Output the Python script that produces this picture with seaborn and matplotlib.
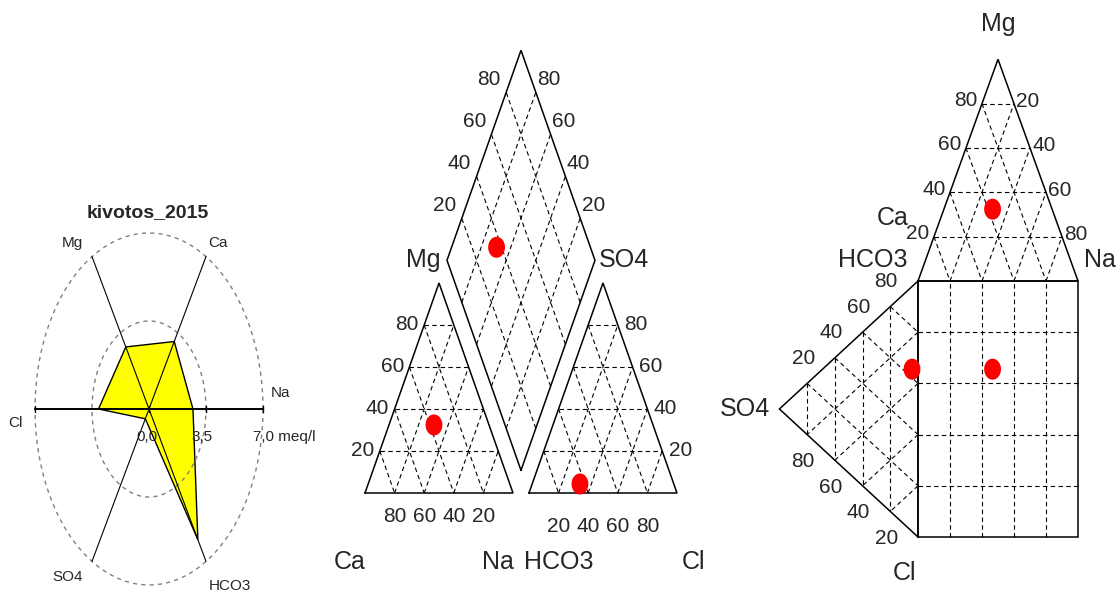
import numpy as np
import matplotlib
matplotlib.use('Agg')
import matplotlib.pyplot as plt
import seaborn as sns

# ---- data ----
sample_name = 'kivotos_2015'
stiff_ions = ['Na', 'Ca', 'Mg', 'Cl', 'SO4', 'HCO3']
stiff_meq = [2.7, 3.1, 2.85, 3.1, 0.45, 6.0]
stiff_ticks = [0.0, 3.5, 7.0]
stiff_tick_labels = ['0,0', '3,5', '7,0 meq/l']

cation_names = ['Ca', 'Mg', 'Na']
cation_pct = [37.2, 32.4, 30.4]
anion_names = ['HCO3', 'SO4', 'Cl']
anion_pct = [63.4, 4.3, 32.3]
grid_pct = [20, 40, 60, 80]

sns.set_theme(style='white')
plt.rcParams['font.family'] = ['Liberation Sans Narrow', 'Liberation Sans', 'DejaVu Sans']

W, H = 1117, 600
fig = plt.figure(figsize=(W / 100, H / 100), dpi=100, facecolor='white')

FRAME = dict(color='black', lw=1.1, solid_joinstyle='miter', zorder=3)
GRID = dict(color='black', lw=0.8, ls=(0, (4, 3)), zorder=2)
TICK = 15
AXLAB = 18


def make_axes(box, origin, scale):
    # box in pixels (y from top), origin = pixel of data (0,0), scale = px per unit
    x0, y0, x1, y1 = box
    ox, oy = origin
    sx, sy = scale
    ax = fig.add_axes([x0 / W, 1 - y1 / H, (x1 - x0) / W, (y1 - y0) / H])
    ax.set_xlim((x0 - ox) / sx, (x1 - ox) / sx)
    ax.set_ylim((oy - y1) / sy, (oy - y0) / sy)
    ax.set_axis_off()
    return ax


def label(ax, txt, xy, off, size, ha='center', **kw):
    ax.annotate(txt, xy, xytext=(off[0], -off[1]), textcoords='offset pixels',
                ha=ha, va='center', fontsize=size, annotation_clip=False, **kw)


def tern(V, comps):
    return np.dot(np.asarray(comps, dtype=float) / 100, V)


def frame(ax, pts):
    pts = np.vstack([pts, pts[:1]])
    ax.plot(pts[:, 0], pts[:, 1], **FRAME)


def tri_grid(ax, V):
    for k in range(3):
        j, l = [i for i in range(3) if i != k]
        for p in grid_pct:
            f = p / 100
            a = f * V[k] + (1 - f) * V[j]
            b = f * V[k] + (1 - f) * V[l]
            ax.plot([a[0], b[0]], [a[1], b[1]], **GRID)


def red_dots(ax, pts):
    pts = np.atleast_2d(pts)
    t = np.linspace(0, 2 * np.pi, 40)
    ell = list(zip(np.cos(t), 1.25 * np.sin(t)))
    sns.scatterplot(x=pts[:, 0], y=pts[:, 1], ax=ax, color='red', s=230,
                    marker=ell, edgecolor='none', legend=False, zorder=5)


# ================= Stiff / radial diagram =================
ax1 = make_axes((0, 190, 320, 600), (149, 409), (114 / 7, 176 / 7))
t = np.linspace(0, 2 * np.pi, 300)
for r in [3.5, 7.0]:
    ax1.plot(r * np.cos(t), r * np.sin(t), color='#808080', lw=1.0, ls=(0, (3, 3)))

ang = np.deg2rad(np.arange(len(stiff_ions)) * 60)
vals = np.asarray(stiff_meq)
ax1.fill(vals * np.cos(ang), vals * np.sin(ang), facecolor='#ffff00',
         edgecolor='black', lw=1.0, zorder=1)
for a in ang:
    if np.isclose(np.cos(a) ** 2, 1):
        continue
    ax1.plot([0, 7 * np.cos(a)], [0, 7 * np.sin(a)], color='black', lw=0.8, zorder=2)
ax1.plot([-7, 7], [0, 0], color='black', lw=1.4, zorder=2)
for v in [-7.0] + stiff_ticks:
    ax1.plot([v, v], [-0.12, 0.12], color='black', lw=1.0, zorder=2)

ion_offsets = {'Na': (17, -16), 'Ca': (12, -14), 'Mg': (-20, -14),
               'Cl': (-20, 14), 'SO4': (-24, 16), 'HCO3': (24, 25)}
for ion, a in zip(stiff_ions, ang):
    label(ax1, ion, (7 * np.cos(a), 7 * np.sin(a)), ion_offsets[ion], 11)

tick_offsets = [(-2, 28, 'center'), (-4, 28, 'center'), (-10, 28, 'left')]
for v, txt, (dx, dy, ha) in zip(stiff_ticks, stiff_tick_labels, tick_offsets):
    label(ax1, txt, (v, 0), (dx, dy), 11, ha=ha)
label(ax1, sample_name, (0, 7), (-1, -20), 14, fontweight='bold')

# ================= Piper diagram =================
ax2 = make_axes((320, 0, 720, 600), (365, 493), (1.48, 2.425))
g = 10.8
h = 50 * np.sqrt(3)
cat_V = np.array([[0, 0], [50, h], [100, 0]])            # Ca, Mg, Na
an_V = np.array([[100 + g, 0], [150 + g, h], [200 + g, 0]])  # HCO3, SO4, Cl
B = np.array([100 + g / 2, g / 2 * np.sqrt(3)])
Lv = np.array([-50, h])
Rv = np.array([50, h])
diamond = np.array([B, B + Lv, B + Lv + Rv, B + Rv])

tri_grid(ax2, cat_V)
tri_grid(ax2, an_V)
for p in grid_pct:
    f = p / 100
    a = B + f * Lv
    ax2.plot([a[0], a[0] + Rv[0]], [a[1], a[1] + Rv[1]], **GRID)
    a = B + f * Rv
    ax2.plot([a[0], a[0] + Lv[0]], [a[1], a[1] + Lv[1]], **GRID)
frame(ax2, cat_V)
frame(ax2, an_V)
frame(ax2, diamond)

for p in grid_pct:
    f = p / 100
    label(ax2, str(p), f * cat_V[1] + (1 - f) * cat_V[0], (-17, 0), TICK)
    label(ax2, str(p), f * cat_V[0] + (1 - f) * cat_V[2], (0, 24), TICK)
    label(ax2, str(p), f * an_V[1] + (1 - f) * an_V[2], (18, 0), TICK)
    label(ax2, str(p), f * an_V[2] + (1 - f) * an_V[0], (0, 34), TICK)
    label(ax2, str(p), B + Lv + f * Rv, (-17, -13), TICK)
    label(ax2, str(p), B + Rv + f * Lv, (13, -13), TICK)

label(ax2, 'Mg', B + Lv, (-24, 0), AXLAB)
label(ax2, 'SO4', B + Rv, (29, 0), AXLAB)
label(ax2, 'Ca', cat_V[0], (-15, 69), AXLAB)
label(ax2, 'Na', cat_V[2], (-15, 69), AXLAB)
label(ax2, 'HCO3', an_V[0], (30, 69), AXLAB)
label(ax2, 'Cl', an_V[2], (17, 69), AXLAB)

cat_pt = tern(cat_V, cation_pct)
an_pt = tern(an_V, anion_pct)
dia_pt = B + (cation_pct[0] + cation_pct[1]) / 100 * Lv + (anion_pct[1] + anion_pct[2]) / 100 * Rv
red_dots(ax2, np.array([cat_pt, an_pt, dia_pt]))

# ================= Expanded Durov diagram =================
ax3 = make_axes((720, 0, 1117, 600), (918, 537), (1.6, 2.56))
top_V = np.array([[0, 100], [50, 100 + h], [100, 100]])   # Ca, Mg, Na
left_V = np.array([[0, 100], [-h, 50], [0, 0]])          # HCO3, SO4, Cl

tri_grid(ax3, top_V)
tri_grid(ax3, left_V)
for p in grid_pct:
    ax3.plot([p, p], [0, 100], **GRID)
    ax3.plot([0, 100], [p, p], **GRID)
frame(ax3, top_V)
frame(ax3, left_V)
frame(ax3, np.array([[0, 0], [0, 100], [100, 100], [100, 0]]))

for p in grid_pct:
    f = p / 100
    label(ax3, str(p), f * top_V[1] + (1 - f) * top_V[0], (-16, -3), TICK)
    label(ax3, str(100 - p), f * top_V[1] + (1 - f) * top_V[2], (14, -2), TICK)
    label(ax3, str(100 - p), f * left_V[1] + (1 - f) * left_V[0], (-4, -25), TICK)
    label(ax3, str(p), f * left_V[1] + (1 - f) * left_V[2], (-4, 27), TICK)

label(ax3, 'Mg', top_V[1], (0, -35), AXLAB)
label(ax3, 'Ca', top_V[0], (-25, -63), AXLAB)
label(ax3, 'Na', top_V[2], (22, -21), AXLAB)
label(ax3, 'HCO3', left_V[0], (-45, -21), AXLAB)
label(ax3, 'SO4', left_V[1], (-34, 0), AXLAB)
label(ax3, 'Cl', left_V[2], (-13, 36), AXLAB)

top_pt = tern(top_V, cation_pct)
left_pt = tern(left_V, anion_pct)
sq_pt = np.array([top_pt[0], left_pt[1]])
red_dots(ax3, np.array([top_pt, left_pt, sq_pt]))

fig.savefig('out.png', dpi=100, facecolor='white')
